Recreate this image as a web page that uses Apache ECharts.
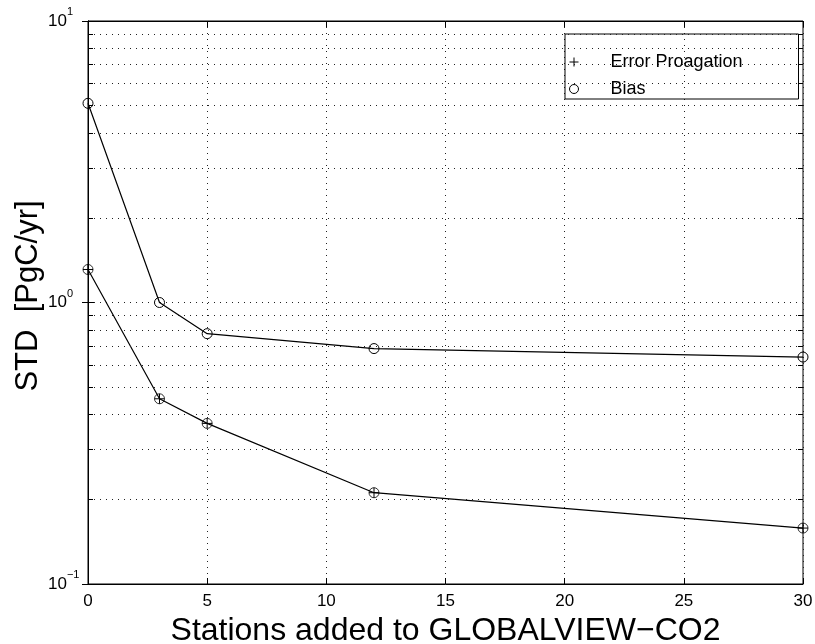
<!DOCTYPE html>
<html>
<head>
<meta charset="utf-8">
<title>STD vs stations added</title>
<script src="https://cdn.jsdelivr.net/npm/echarts@6/dist/echarts.min.js"></script>
<style>
  html, body { margin: 0; padding: 0; background: #fff; }
  #chart { width: 815px; height: 644px; }
</style>
</head>
<body>
<div id="chart"></div>
<script>
// Number of stations added to the network
const stations = [0, 3, 5, 12, 30];
// Lower curve: error propagation estimate (PgC/yr)
const errorPropagation = [1.31, 0.455, 0.372, 0.211, 0.158];
// Bias estimate sharing the lower curve
const biasLower = [1.31, 0.455, 0.372, 0.211, 0.158];
// Upper curve: bias (PgC/yr)
const biasUpper = [5.1, 1.0, 0.775, 0.686, 0.64];
// Minor grid positions of the logarithmic axis
const minorTicks = [0.2, 0.3, 0.4, 0.5, 0.6, 0.7, 0.8, 0.9, 2, 3, 4, 5, 6, 7, 8, 9];
const legendNames = ['Error Proagation', 'Bias'];

const FONT = '"Liberation Sans", Arial, Helvetica, sans-serif';
const X_MIN = 0, X_MAX = 30;
const TICK_SPAN = 0.21; // short inner tick length in x units
const plusPath = 'path://M0,5H10M5,0V10';
const dotted = [1, 5];

const pairs = (xs, ys) => xs.map((x, i) => [x, ys[i]]);

const hollow = { color: 'transparent', borderColor: '#000', borderWidth: 1 };

const chart = echarts.init(document.getElementById('chart'), null, { renderer: 'canvas' });

chart.setOption({
  animation: false,
  backgroundColor: '#fff',
  textStyle: { fontFamily: FONT, color: '#000' },
  grid: {
    left: 88, right: 12, top: 21, bottom: 60,
    show: true, borderColor: '#000', borderWidth: 1,
    containLabel: false, outerBoundsMode: 'none'
  },
  legend: {
    orient: 'vertical',
    left: 565, top: 34,
    data: [
      { name: legendNames[0], icon: plusPath },
      { name: legendNames[1], icon: 'circle' }
    ],
    itemWidth: 9, itemHeight: 9, itemGap: 9,
    padding: [19, 38, 1, 4],
    borderColor: '#000', borderWidth: 1,
    backgroundColor: 'transparent',
    selectedMode: false,
    itemStyle: { color: 'transparent', borderColor: '#000', borderWidth: 1 },
    lineStyle: { opacity: 0 },
    textStyle: {
      fontFamily: FONT, fontSize: 18, lineHeight: 18, color: '#000',
      padding: [0, 0, 0, 27], width: 150
    }
  },
  xAxis: [
    {
      type: 'value', position: 'bottom', min: X_MIN, max: X_MAX, interval: 5,
      axisLine: { show: true, lineStyle: { color: '#000', width: 1 } },
      axisTick: { show: true, inside: true, length: 6, lineStyle: { color: '#000' } },
      axisLabel: { show: true, margin: 9, fontSize: 17, color: '#000', fontFamily: FONT,
                   showMinLabel: true, showMaxLabel: true },
      splitLine: { show: true, lineStyle: { type: dotted, color: '#222', width: 1 } },
      name: 'Stations added to GLOBALVIEW\u2212CO2',
      nameLocation: 'middle', nameGap: 31, nameMoveOverlap: false,
      nameTextStyle: { fontSize: 32, color: '#000', fontFamily: FONT }
    },
    {
      type: 'value', position: 'top', min: X_MIN, max: X_MAX, interval: 5,
      axisLine: { show: true, lineStyle: { color: '#000', width: 1 } },
      axisTick: { show: true, inside: true, length: 6, lineStyle: { color: '#000' } },
      axisLabel: { show: false },
      splitLine: { show: false }
    }
  ],
  yAxis: [
    {
      type: 'log', logBase: 10, min: 0.1, max: 10, position: 'left',
      axisLine: { show: true, lineStyle: { color: '#000', width: 1 } },
      axisTick: { show: true, inside: true, length: 6, lineStyle: { color: '#000' } },
      axisLabel: {
        show: true, margin: 40, align: 'left',
        showMinLabel: true, showMaxLabel: true,
        formatter: v => {
          const e = Math.round(Math.log10(v));
          return '{b|10}{e|' + (e < 0 ? '\u2212' + (-e) : String(e)) + '}';
        },
        rich: {
          b: { fontSize: 17, color: '#000', fontFamily: FONT },
          e: { fontSize: 11, color: '#000', fontFamily: FONT, padding: [0, 0, 18, 0] }
        }
      },
      splitLine: { show: true, lineStyle: { type: dotted, color: '#222', width: 1 } },
      name: 'STD  [PgC/yr]',
      nameLocation: 'middle', nameGap: 44, nameMoveOverlap: false,
      nameTextStyle: { fontSize: 31, color: '#000', fontFamily: FONT, padding: [0, 0, 0, 13] }
    },
    {
      type: 'log', logBase: 10, min: 0.1, max: 10, position: 'right',
      axisLine: { show: true, lineStyle: { color: '#000', width: 1 } },
      axisTick: { show: true, inside: true, length: 6, lineStyle: { color: '#000' } },
      axisLabel: { show: false },
      splitLine: { show: false }
    }
  ],
  series: [
    {
      name: legendNames[0],
      type: 'line',
      data: pairs(stations, errorPropagation),
      symbol: plusPath, symbolSize: 10, showAllSymbol: true,
      itemStyle: hollow,
      lineStyle: { color: '#000', width: 1.2 },
      emphasis: { disabled: true },
      z: 4
    },
    {
      name: legendNames[1],
      type: 'line',
      data: pairs(stations, biasUpper),
      symbol: 'circle', symbolSize: 10, showAllSymbol: true,
      itemStyle: hollow,
      lineStyle: { color: '#000', width: 1.2 },
      emphasis: { disabled: true },
      z: 4,
      // dotted minor grid across the plot
      markLine: {
        silent: true, symbol: ['none', 'none'], label: { show: false },
        lineStyle: { type: dotted, color: '#222', width: 1 },
        emphasis: { disabled: true },
        data: minorTicks.map(v => ({ yAxis: v }))
      }
    },
    {
      name: legendNames[1],
      type: 'scatter',
      data: pairs(stations, biasLower),
      symbol: 'circle', symbolSize: 10,
      itemStyle: hollow,
      emphasis: { disabled: true },
      z: 4,
      // short inner ticks on left and right axes at minor positions
      markLine: {
        silent: true, symbol: ['none', 'none'], label: { show: false },
        lineStyle: { type: 'solid', color: '#000', width: 1 },
        emphasis: { disabled: true },
        data: minorTicks.flatMap(v => [
          [{ coord: [X_MIN, v] }, { coord: [X_MIN + TICK_SPAN, v] }],
          [{ coord: [X_MAX - TICK_SPAN, v] }, { coord: [X_MAX, v] }]
        ])
      }
    }
  ]
});
</script>
</body>
</html>
